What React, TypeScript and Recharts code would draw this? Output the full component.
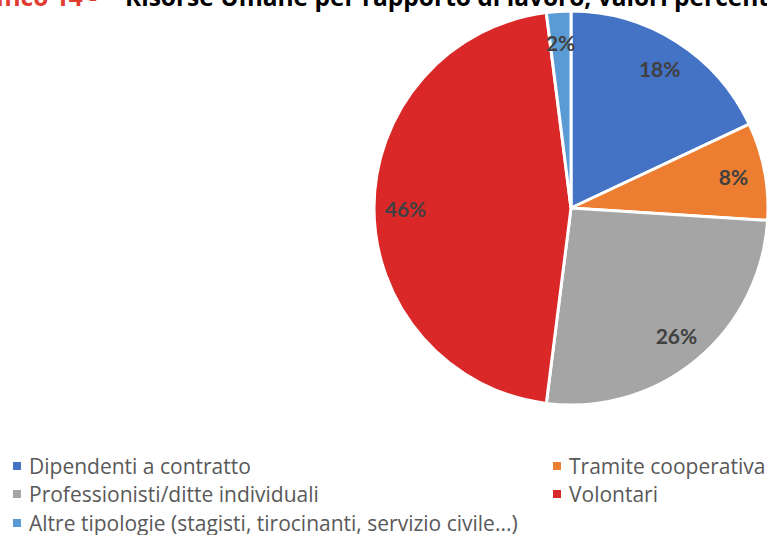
import React from 'react';
import { PieChart, Pie, Cell, Legend } from 'recharts';

const categories = [
  'Dipendenti a contratto',
  'Tramite cooperativa',
  'Professionisti/ditte individuali',
  'Volontari',
  'Altre tipologie (stagisti, tirocinanti, servizio civile...)',
];
const shares = [18, 8, 26, 46, 2];
const colors = ['#4472C4', '#ED7D31', '#A5A5A5', '#DA2828', '#5B9BD5'];

const titlePrefix = 'Grafico 14 -';
const titleText = 'Risorse Umane per rapporto di lavoro, valori percentuali';

const data = categories.map((name, i) => ({ name, value: shares[i] }));

const RADIAN = Math.PI / 180;
const LABEL_FONT = 'Lato, "Open Sans", sans-serif';
const TEXT_FONT = '"Open Sans", Lato, sans-serif';

// percentage label inside each slice
const renderLabel = (props: any) => {
  const { cx, cy, midAngle, outerRadius, value } = props;
  const r = outerRadius * 0.84;
  const x = cx + r * Math.cos(-midAngle * RADIAN);
  const y = cy + r * Math.sin(-midAngle * RADIAN);
  return (
    <text
      x={x}
      y={y}
      fill="#404040"
      textAnchor="middle"
      dominantBaseline="central"
      style={{ fontFamily: LABEL_FONT, fontWeight: 700, fontSize: 21 }}
    >
      {`${value}%`}
    </text>
  );
};

// legend laid out in two columns, last item on its own row
const renderLegend = () => {
  const slots = [
    { i: 0, left: 13, row: 0 },
    { i: 1, left: 553, row: 0 },
    { i: 2, left: 13, row: 1 },
    { i: 3, left: 553, row: 1 },
    { i: 4, left: 13, row: 2 },
  ];
  return (
    <div style={{ position: 'relative', width: 767, height: 90 }}>
      {slots.map(s => (
        <div
          key={s.i}
          style={{
            position: 'absolute',
            left: s.left,
            top: s.row * 28.5,
            height: 29,
            display: 'flex',
            alignItems: 'center',
            whiteSpace: 'nowrap',
            fontFamily: TEXT_FONT,
            fontSize: 21,
            color: '#595959',
          }}
        >
          <span style={{ width: 8, height: 8, background: colors[s.i], marginRight: 8, display: 'inline-block' }} />
          {categories[s.i]}
        </div>
      ))}
    </div>
  );
};

export default function App() {
  return (
    <div style={{ position: 'absolute', left: 0, top: 0, width: 767, height: 535, overflow: 'hidden', background: '#fff' }}>
      <svg width={767} height={30} style={{ position: 'absolute', left: 0, top: 0 }}>
        <text x={97} y={6} textAnchor="end" fill="#E03C31" style={{ fontFamily: TEXT_FONT, fontWeight: 700, fontSize: 24.5 }}>
          {titlePrefix}
        </text>
        <text x={125} y={6} fill="#000" style={{ fontFamily: TEXT_FONT, fontWeight: 700, fontSize: 24.5 }}>
          {titleText}
        </text>
      </svg>
      <PieChart width={767} height={535} margin={{ top: 0, right: 0, bottom: 0, left: 0 }}>
        <Pie
          data={data}
          dataKey="value"
          nameKey="name"
          cx={571}
          cy={208}
          outerRadius={197}
          startAngle={90}
          endAngle={-270}
          stroke="#fff"
          strokeWidth={3}
          label={renderLabel}
          labelLine={false}
          isAnimationActive={false}
        >
          {data.map((d, i) => (
            <Cell key={d.name} fill={colors[i]} />
          ))}
        </Pie>
        <Legend
          content={renderLegend}
          wrapperStyle={{ position: 'absolute', left: 0, top: 451, width: 767 }}
        />
      </PieChart>
    </div>
  );
}
